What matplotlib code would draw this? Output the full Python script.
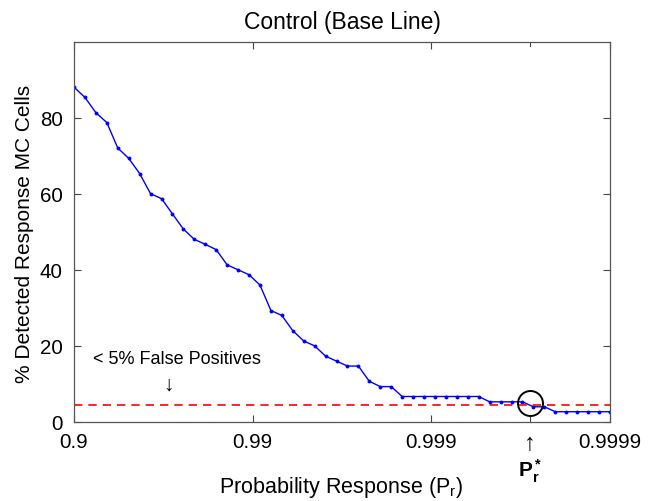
import numpy as np
import matplotlib
matplotlib.use("Agg")
import matplotlib.pyplot as plt

plt.rcParams['font.family'] = ['Liberation Sans', 'DejaVu Sans']
plt.rcParams['mathtext.fontset'] = 'custom'
plt.rcParams['mathtext.rm'] = 'Liberation Sans'
plt.rcParams['mathtext.it'] = 'Liberation Sans'
plt.rcParams['mathtext.bf'] = 'Liberation Sans:bold'

# 1 - probability response grid (log spaced, 50 points from 0.9 to 0.9999)
one_minus_p = np.logspace(-1, -4, 50)
detected_pct = [88.0, 85.3, 81.3, 78.7, 72.0, 69.3, 65.3, 60.0, 58.7, 54.7,
                50.7, 48.0, 46.7, 45.3, 41.3, 40.0, 38.7, 36.0, 29.3, 28.0,
                24.0, 21.3, 20.0, 17.3, 16.0, 14.7, 14.7, 10.7, 9.3, 9.3,
                6.7, 6.7, 6.7, 6.7, 6.7, 6.7, 6.7, 6.7, 5.3, 5.3,
                5.3, 5.3, 4.0, 4.0, 2.7, 2.7, 2.7, 2.7, 2.7, 2.7]
false_pos_level = 4.5
p_star = 0.99972
xtick_probs = [0.9, 0.99, 0.999, 0.9999]
xtick_labels = ['0.9', '0.99', '0.999', '0.9999']
yticks = [0, 20, 40, 60, 80]

fig = plt.figure(figsize=(6.52, 5.02), dpi=100)
ax = fig.add_axes([74/652, 1 - 423/502, 536/652, (423 - 42.5)/502])

ax.plot(one_minus_p, detected_pct, color='#0000ff', lw=1.0, marker='o',
        markersize=2.8, markeredgewidth=0)
ax.axhline(false_pos_level, color='#ff0000', lw=1.2, dashes=(5, 3.6))

q_star = 1 - p_star
ax.plot([q_star], [4.9], marker='o', markersize=18, markerfacecolor='none',
        markeredgecolor='black', markeredgewidth=1.4, linestyle='none')

ax.set_xscale('log')
ax.set_xlim(1e-1, 1e-4)
ax.set_ylim(0, 100)
ax.set_xticks([1 - p for p in xtick_probs])
ax.set_xticklabels(xtick_labels)
ax.xaxis.set_minor_locator(matplotlib.ticker.NullLocator())
ax.set_yticks(yticks)
ax.set_yticklabels([str(v) for v in yticks])
ax.tick_params(direction='in', length=5, width=0.8, labelsize=14.8,
               top=True, right=True, color='#444444')
ax.tick_params(axis='x', pad=7)
ax.tick_params(axis='y', pad=8)
for s in ax.spines.values():
    s.set_color('#555555')
    s.set_linewidth(0.9)

# P_r* marker tick (bottom and top)
ax.plot([q_star, q_star], [0, 1.3], color='#444444', lw=0.8, clip_on=False)
ax.plot([q_star, q_star], [100, 98.7], color='#444444', lw=0.8, clip_on=False)
ax.text(q_star, -5.4, '\u2191', ha='center', va='center', fontsize=17)
ax.text(q_star, -12.6, r'$\mathbf{P_r^*}$', ha='center', va='center',
        fontsize=15)

ax.text(93/652, 1 - 360/502, '< 5% False Positives', transform=fig.transFigure,
        ha='left', va='center', fontsize=13)
ax.text(169/652, 1 - 385/502, '\u2193', transform=fig.transFigure,
        ha='center', va='center', fontsize=15)

ax.set_title('Control (Base Line)', fontsize=16.5, pad=10)
ax.set_xlabel(r'Probability Response (P$_\mathrm{r}$)', fontsize=15.5)
ax.xaxis.set_label_coords(0.498, (423 - 493) / 380.5)
ax.xaxis.label.set_va('baseline')
ax.set_ylabel('% Detected Response MC Cells', fontsize=15)
ax.yaxis.set_label_coords((25 - 74) / 536, (423 - 233.5) / 380.5)
ax.yaxis.label.set_va('center')

fig.savefig('out.png', dpi=100)
